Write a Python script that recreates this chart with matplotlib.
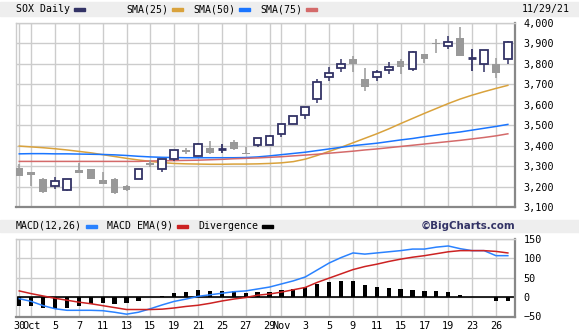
import matplotlib
matplotlib.use("Agg")
import matplotlib.pyplot as plt
import numpy as np

# SOX daily candles, Sep 30 - Nov 29 2021 (trading days)
opens = [3292, 3271, 3238, 3201, 3185, 3281, 3286, 3232, 3237, 3203, 3238, 3317, 3284, 3336,
         3379, 3351, 3389, 3385, 3418, 3366, 3402, 3402, 3456, 3505, 3549, 3627, 3734, 3778,
         3825, 3725, 3734, 3770, 3813, 3777, 3848, 3901, 3889, 3927, 3830, 3798, 3799, 3822]
closes = [3251, 3256, 3175, 3226, 3235, 3268, 3238, 3214, 3170, 3185, 3287, 3307, 3333, 3377,
          3369, 3408, 3366, 3385, 3385, 3359, 3436, 3447, 3505, 3544, 3588, 3710, 3754, 3798,
          3798, 3688, 3759, 3786, 3786, 3857, 3825, 3897, 3909, 3840, 3830, 3866, 3754, 3906]
highs = [3312, 3271, 3242, 3245, 3235, 3317, 3286, 3271, 3242, 3208, 3287, 3330, 3333, 3377,
         3390, 3415, 3423, 3407, 3428, 3395, 3436, 3452, 3505, 3544, 3588, 3726, 3783, 3822,
         3839, 3778, 3770, 3808, 3822, 3863, 3848, 3920, 3936, 3982, 3871, 3866, 3827, 3913]
lows = [3251, 3204, 3167, 3187, 3177, 3268, 3238, 3214, 3162, 3180, 3238, 3294, 3272, 3325,
        3358, 3351, 3359, 3366, 3379, 3359, 3395, 3402, 3444, 3505, 3532, 3610, 3716, 3762,
        3762, 3669, 3718, 3749, 3750, 3767, 3804, 3855, 3873, 3840, 3767, 3762, 3732, 3801]

sma25 = [3398, 3394, 3390, 3385, 3379, 3372, 3365, 3356, 3347, 3338, 3330, 3323, 3317, 3313,
         3311, 3310, 3309, 3309, 3310, 3310, 3311, 3313, 3316, 3322, 3334, 3352, 3372, 3392,
         3414, 3436, 3458, 3482, 3508, 3533, 3558, 3582, 3606, 3628, 3647, 3664, 3680, 3695]
sma50 = [3360, 3361, 3361, 3360, 3360, 3359, 3358, 3357, 3355, 3352, 3348, 3345, 3343, 3342,
         3341, 3341, 3341, 3341, 3341, 3342, 3345, 3350, 3356, 3362, 3368, 3376, 3384, 3392,
         3400, 3406, 3412, 3420, 3428, 3435, 3444, 3452, 3460, 3467, 3476, 3485, 3494, 3504]
sma75 = [3323, 3323, 3323, 3323, 3323, 3323, 3323, 3323, 3323, 3323, 3323, 3325, 3326, 3327,
         3328, 3329, 3331, 3333, 3336, 3338, 3340, 3343, 3346, 3350, 3354, 3358, 3363, 3368,
         3373, 3379, 3384, 3390, 3396, 3402, 3408, 3414, 3420, 3426, 3433, 3440, 3448, 3458]

macd = [-4, -11, -22, -30, -34, -34, -34, -35, -39, -44, -39, -30, -20, -11, -5, 2, 6, 10,
        14, 16, 21, 26, 34, 42, 52, 70, 88, 102, 114, 111, 114, 117, 120, 124, 124, 129, 132,
        125, 120, 120, 107, 107]
signal = [16, 9, 3, -3, -8, -13, -17, -22, -27, -32, -32, -32, -31, -28, -24, -21, -16, -10,
          -5, -1, 5, 8, 13, 19, 25, 38, 49, 60, 71, 79, 85, 92, 98, 103, 107, 112, 117, 120,
          120, 120, 118, 114]
divergence = [-22, -24, -29, -30, -27, -22, -18, -16, -19, -16, -9, 0, 3, 11, 14, 19, 16, 16,
              15, 11, 14, 14, 19, 22, 26, 35, 40, 42, 42, 32, 27, 24, 22, 19, 16, 16, 14, 6,
              0, 0, -11, -9]

tick_pos = [0, 1, 3, 5, 7, 9, 11, 13, 15, 17, 19, 21, 22, 24, 26, 28, 30, 32, 34, 36, 38, 40]
tick_lab = ['30', 'Oct', '5', '7', '11', '13', '15', '19', '21', '25', '27', '29', 'Nov',
            '3', '5', '9', '11', '15', '17', '19', '23', '26']

NAVY = '#333366'
GREY = '#999999'
GRID = '#cccccc'
W, H = 579, 335
mono = 'DejaVu Sans Mono'

fig = plt.figure(figsize=(W / 100, H / 100), dpi=100)
fig.patch.set_facecolor('white')


def box(l, t, r, b):
    return [l / W, 1 - b / H, (r - l) / W, (b - t) / H]


# header strips
for t, b in [(2, 15.5), (220, 232)]:
    fig.patches.append(plt.Rectangle((0, 1 - b / H), 1, (b - t) / H,
                                     transform=fig.transFigure, color='#eeeeee', zorder=0))


def legend_row(y, items, x0=16):
    x = x0
    for lab, col, swx in items:
        fig.text(x / W, 1 - y / H, lab, family=mono, fontsize=7.1, va='center', ha='left')
        fig.patches.append(plt.Rectangle((swx / W, 1 - (y + 1.5) / H), 11 / W, 3 / H,
                                         transform=fig.transFigure, color=col, zorder=2))
        x = swx + 22


fig.text(16 / W, 1 - 9 / H, 'SOX Daily', family=mono, fontsize=7.1, va='center')
fig.patches.append(plt.Rectangle((74 / W, 1 - 10.5 / H), 11 / W, 3 / H,
                                 transform=fig.transFigure, color=NAVY))
for lab, col, tx, sx in [('SMA(25)', '#d9a23c', 126, 172), ('SMA(50)', '#1a75ff', 193, 239),
                         ('SMA(75)', '#d46a6a', 260, 306)]:
    fig.text(tx / W, 1 - 9 / H, lab, family=mono, fontsize=7.1, va='center')
    fig.patches.append(plt.Rectangle((sx / W, 1 - 10.5 / H), 11 / W, 3 / H,
                                     transform=fig.transFigure, color=col))
fig.text(570 / W, 1 - 9 / H, '11/29/21', family=mono, fontsize=7.1, va='center', ha='right')

for lab, col, tx, sx in [('MACD(12,26)', '#2a82ff', 16, 86), ('MACD EMA(9)', '#cc2222', 107, 177),
                         ('Divergence', 'black', 198, 262)]:
    fig.text(tx / W, 1 - 226 / H, lab, family=mono, fontsize=7.1, va='center')
    fig.patches.append(plt.Rectangle((sx / W, 1 - 227.5 / H), 11 / W, 3 / H,
                                     transform=fig.transFigure, color=col))
fig.text(515 / W, 1 - 226 / H, '\u00a9BigCharts.com', fontsize=7.4, fontweight='bold',
         color=NAVY, va='center', ha='right')


def style(ax, yticks):
    ax.set_xlim(-0.3, 41.6)
    ax.set_xticks(tick_pos)
    ax.set_yticks(yticks)
    ax.grid(True, color=GRID, lw=1)
    ax.set_axisbelow(True)
    ax.yaxis.tick_right()
    ax.tick_params(length=0, labelsize=7.3, pad=6)
    for lab in ax.get_yticklabels() + ax.get_xticklabels():
        lab.set_family(mono)
    for s in ['top', 'left']:
        ax.spines[s].set_color(GRID)
        ax.spines[s].set_linewidth(1)
    for s in ['bottom', 'right']:
        ax.spines[s].set_color('#888888')
        ax.spines[s].set_linewidth(1.6)


# price panel
ax = fig.add_axes(box(15.7, 23, 515, 207))
style(ax, np.arange(3100, 4001, 100))
ax.set_ylim(3100, 4000)
ax.set_yticklabels([f'{v:,}' for v in range(3100, 4001, 100)])
ax.set_xticklabels([])

x = np.arange(len(opens))
ax.plot(x, sma25, color='#d9a23c', lw=1.1, zorder=2)
ax.plot(x, sma50, color='#1a75ff', lw=1.1, zorder=2)
ax.plot(x, sma75, color='#d46a6a', lw=1.1, zorder=2)

bw = 0.65
for i in x:
    o, h, l, c = opens[i], highs[i], lows[i], closes[i]
    if c > o:
        ax.vlines(i, l, h, color=NAVY, lw=1.1, zorder=3)
        ax.bar(i, c - o, bottom=o, width=bw, facecolor='white', edgecolor=NAVY, lw=1.3, zorder=4)
    elif c < o:
        ax.vlines(i, l, h, color=GREY, lw=1.1, zorder=3)
        ax.bar(i, o - c, bottom=c, width=bw, color=GREY, lw=0, zorder=4)
    else:
        ax.vlines(i, l, h, color=NAVY, lw=1.3, zorder=3)
        ax.hlines(o, i - bw / 2, i + bw / 2, color=NAVY, lw=2, zorder=4)

# MACD panel
ax2 = fig.add_axes(box(15.7, 239, 515, 316.5))
style(ax2, [-50, 0, 50, 100, 150])
ax2.set_ylim(-50, 150)
ax2.set_xticklabels(tick_lab)
ax2.tick_params(axis='x', pad=3)
ax2.axhline(0, color='black', lw=1.2, zorder=2)
ax2.bar(x, divergence, width=0.36, color='black', zorder=3)
ax2.plot(x, macd, color='#2a82ff', lw=1.1, zorder=4)
ax2.plot(x, signal, color='#cc2222', lw=1.1, zorder=4)

fig.savefig('out.png', dpi=100)
